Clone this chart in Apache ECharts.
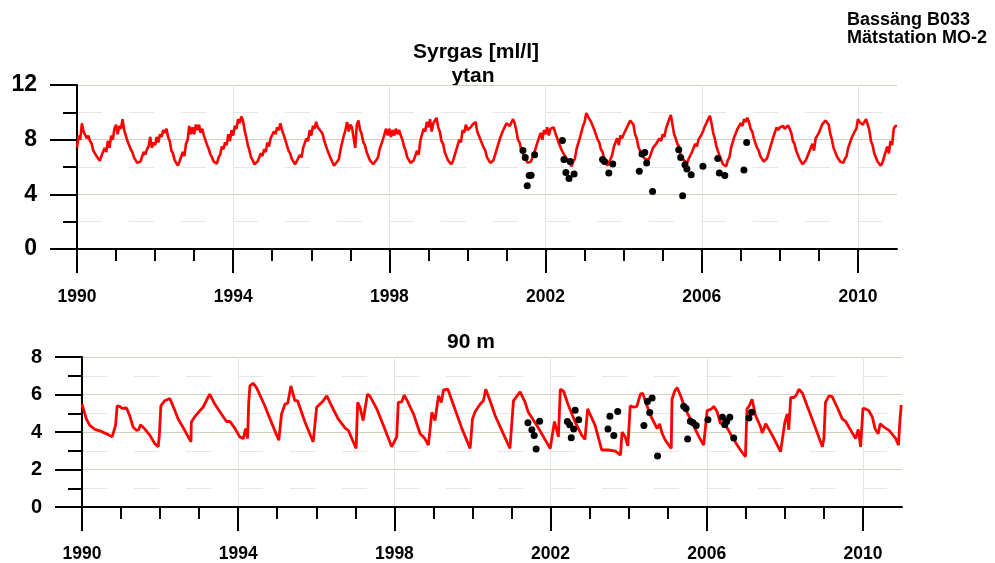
<!DOCTYPE html>
<html>
<head>
<meta charset="utf-8">
<script src="https://cdn.jsdelivr.net/npm/echarts@6/dist/echarts.min.js"></script>
<style>html,body{margin:0;padding:0;background:#fff}#c{width:995px;height:563px}</style>
</head>
<body>
<div id="c"></div>
<script>
// ---------- DATA ----------
// Surface (ytan) oxygen, 24 readings per year starting 1990.0 (half-monthly)
const ytanStartYear = 1990;
const ytanPerYear = 24;
const ytanValues = [
 7.4,8.3,8.0,9.2,8.6,8.7,8.1,8.3,7.9,7.7,7.2,7.1,6.8,6.7,6.45,6.8,6.7,7.4,7.1,7.9,7.4,8.3,8.0,8.8,
 9.1,8.4,9.0,8.8,9.5,8.7,8.6,7.9,7.8,7.3,7.1,6.7,6.6,6.3,6.2,6.4,6.5,7.1,6.9,7.3,7.5,8.2,7.4,7.8,
 7.6,8.2,7.8,8.4,8.2,8.7,8.5,8.8,8.2,7.9,7.2,7.0,6.5,6.4,6.1,6.4,6.5,7.1,6.8,7.7,8.0,9.0,8.4,8.9,
 8.4,9.1,8.7,9.1,8.5,8.8,8.3,8.3,7.6,7.3,6.9,6.7,6.4,6.3,6.25,6.7,6.9,7.5,7.3,7.8,7.6,8.4,7.9,8.7,
 8.3,9.0,8.8,9.5,9.2,9.7,9.4,8.7,8.2,7.6,7.2,6.7,6.5,6.2,6.1,6.4,6.5,7.0,6.8,7.3,7.1,7.8,7.5,8.1,
 8.0,8.6,8.4,8.9,8.7,9.2,8.7,8.7,8.0,7.9,7.2,7.0,6.6,6.5,6.2,6.4,6.5,6.9,6.7,7.4,7.3,8.1,7.9,8.7,
 8.3,9.0,8.8,9.3,8.9,9.0,8.6,8.4,7.9,7.8,7.2,7.1,6.6,6.5,6.1,6.0,6.4,6.6,7.3,7.4,8.3,8.7,9.3,8.6,
 9.1,8.9,8.8,7.4,9.1,9.4,8.7,8.4,7.8,7.6,7.1,7.0,6.5,6.5,6.2,6.1,6.5,6.7,7.3,7.2,8.0,8.0,8.8,8.3,
 8.8,8.2,8.7,8.3,8.8,8.4,8.7,8.3,8.0,7.5,7.2,6.7,6.6,6.3,6.2,6.5,6.6,7.2,6.9,7.9,7.8,8.8,8.6,9.3,
 8.9,9.5,8.6,9.2,9.1,9.6,8.9,8.6,7.9,7.7,7.1,7.0,6.5,6.5,6.2,6.4,6.5,7.2,7.1,8.0,7.8,8.7,8.5,9.1,
 8.7,8.8,8.9,9.1,9.1,9.3,8.6,8.5,8.0,7.9,7.4,7.2,6.7,6.7,6.3,6.2,6.5,6.6,7.3,7.3,8.1,8.1,8.7,8.8,
 9.2,9.1,9.0,9.0,9.5,9.2,8.7,8.0,7.8,7.3,7.2,6.7,6.7,6.3,6.2,6.4,6.4,7.0,6.9,7.8,7.8,8.5,8.0,8.7,
 8.4,8.9,8.3,8.8,8.7,8.9,8.5,8.4,7.8,7.7,7.2,7.2,6.8,6.8,6.4,6.4,6.05,6.4,6.6,7.3,7.3,8.1,8.2,9.0,
 9.3,9.95,9.7,9.7,9.3,9.2,8.7,8.6,8.0,7.8,7.3,7.1,6.6,6.5,6.1,6.1,6.6,6.9,7.5,7.4,8.1,7.6,8.3,8.1,
 8.4,8.4,8.9,8.9,9.4,9.45,9.1,8.4,8.1,7.5,7.4,6.9,7.0,6.6,6.6,6.5,6.7,6.8,7.4,7.5,7.7,7.6,8.1,7.9,
 8.4,8.2,8.8,8.7,9.5,9.8,9.1,8.4,8.1,7.7,7.5,6.9,6.9,6.5,6.4,6.3,6.6,6.6,7.1,7.0,7.7,7.5,8.0,7.9,
 8.4,8.4,9.0,8.9,9.5,9.75,9.2,8.5,8.1,7.5,7.4,6.8,6.7,6.2,6.1,6.05,6.5,6.7,7.4,7.4,8.2,8.1,8.8,8.7,
 9.2,9.0,9.5,9.3,9.6,9.3,8.8,8.6,8.1,8.0,7.4,7.2,6.8,6.7,6.4,6.3,6.6,6.7,7.4,7.4,8.2,8.2,8.9,8.7,
 8.9,8.8,9.0,8.8,8.7,9.05,8.8,8.5,7.9,7.7,7.2,7.1,6.6,6.5,6.2,6.3,6.5,6.6,7.1,7.1,7.7,7.2,8.1,8.0,
 8.5,8.5,9.1,9.2,9.4,9.3,9.1,8.4,8.0,7.4,7.3,6.8,6.8,6.4,6.4,6.3,6.6,6.8,7.4,7.4,8.1,8.0,8.6,8.8,
 9.5,9.3,9.4,9.1,9.3,9.5,9.1,8.7,7.9,7.6,7.0,6.9,6.4,6.4,6.1,6.3,6.7,6.8,7.5,7.0,7.9,7.6,8.8,9.0,
 9.0
];

// Surface bottle samples (black dots)
const ytanDotYears  = [2001.42,2001.48,2001.53,2001.58,2001.63,2001.72,2002.43,2002.47,2002.52,2002.60,2002.63,2002.73,2003.46,2003.51,2003.62,2003.72,2004.40,2004.47,2004.54,2004.59,2004.74,2005.41,2005.46,2005.51,2005.57,2005.62,2005.73,2006.03,2006.41,2006.45,2006.59,2007.08,2007.15];
const ytanDotValues = [7.2,6.7,4.63,5.37,5.4,6.9,7.93,6.54,5.6,5.15,6.41,5.49,6.54,6.41,5.56,6.22,5.68,6.95,7.07,6.3,4.2,7.27,6.7,3.9,6.17,5.85,5.44,6.05,6.63,5.56,5.37,5.78,7.8];

// 90 m oxygen
const deepYears = [
 1990.00,1990.11,1990.20,1990.33,1990.50,1990.67,1990.77,1990.82,1990.86,1990.90,1990.97,1991.03,1991.14,1991.22,1991.31,1991.39,1991.45,1991.50,1991.60,1991.74,1991.86,1991.95,1991.98,
 1992.02,1992.12,1992.25,1992.29,1992.38,1992.46,1992.63,1992.79,1992.80,1992.88,1993.02,1993.10,1993.27,1993.40,1993.57,1993.70,1993.79,1993.92,
 1994.04,1994.13,1994.19,1994.24,1994.27,1994.30,1994.38,1994.47,1994.68,1994.90,1995.04,1995.11,1995.20,1995.27,1995.35,1995.45,1995.52,1995.71,1995.92,
 1996.01,1996.18,1996.27,1996.39,1996.56,1996.74,1996.82,1997.02,1997.06,1997.12,1997.20,1997.31,1997.37,1997.55,1997.72,1997.93,
 1998.06,1998.10,1998.19,1998.25,1998.31,1998.49,1998.66,1998.78,1998.87,1998.96,1999.04,1999.13,1999.20,1999.26,1999.37,1999.55,1999.73,1999.94,
 2000.00,2000.07,2000.20,2000.28,2000.34,2000.45,2000.58,2000.75,2000.96,2001.05,2001.22,2001.35,2001.43,2001.65,2001.82,2001.99,
 2002.10,2002.20,2002.25,2002.33,2002.46,2002.63,2002.80,2002.88,2002.95,2003.14,2003.31,2003.48,2003.66,2003.79,2003.83,2003.91,2003.98,
 2004.04,2004.13,2004.21,2004.30,2004.36,2004.41,2004.56,2004.73,2004.79,2004.86,2004.94,2005.09,2005.11,2005.18,2005.24,2005.33,2005.45,2005.62,2005.80,2005.92,
 2006.01,2006.12,2006.18,2006.27,2006.35,2006.44,2006.65,2006.86,2006.99,2007.03,2007.09,2007.16,2007.25,2007.38,2007.42,2007.51,2007.68,2007.89,2007.93,
 2008.00,2008.06,2008.10,2008.15,2008.23,2008.29,2008.36,2008.45,2008.57,2008.79,2008.96,2009.00,2009.04,2009.13,2009.21,2009.34,2009.47,2009.56,2009.64,2009.81,2009.88,2009.94,
 2010.00,2010.07,2010.15,2010.24,2010.31,2010.39,2010.44,2010.54,2010.67,2010.84,2010.91,2010.95,2010.98
];
const deepValues = [
 5.49,4.70,4.35,4.14,4.03,3.86,3.74,3.80,4.35,5.40,5.35,5.26,5.28,4.88,4.26,4.09,4.12,4.39,4.18,3.82,3.39,3.21,3.80,
 5.40,5.67,5.79,5.75,5.14,4.70,4.09,3.47,4.53,4.79,5.14,5.32,6.02,5.49,4.96,4.56,4.56,4.18,
 3.74,3.65,4.18,3.65,5.58,6.46,6.60,6.37,5.40,4.26,3.56,4.96,5.49,5.54,6.46,5.67,5.67,4.53,3.47,
 5.32,5.67,5.93,5.40,4.70,4.21,4.09,3.12,5.58,5.32,4.61,6.02,5.93,5.23,4.35,3.21,
 3.74,5.58,5.61,5.96,5.75,4.96,3.91,3.65,3.30,5.05,4.61,5.93,5.58,6.25,6.28,5.23,4.18,3.12,
 4.70,5.09,5.49,5.67,6.28,5.67,4.88,4.09,3.12,5.67,6.14,5.58,5.05,4.35,3.74,3.12,
 4.56,3.74,6.28,6.19,5.40,4.53,3.82,3.60,5.23,4.35,3.04,3.04,2.98,2.77,4.00,3.74,3.26,
 5.40,5.32,5.37,6.02,6.07,5.75,4.88,4.18,4.44,3.91,3.56,3.12,5.75,6.19,6.37,5.93,5.23,4.53,3.74,3.30,
 5.14,5.23,5.37,5.05,4.44,4.53,3.74,3.04,2.68,5.23,5.40,5.75,4.88,4.26,3.95,4.44,3.82,2.95,2.95,
 4.53,4.96,4.12,5.84,5.84,5.96,6.28,6.07,5.40,4.18,3.21,3.65,5.58,5.93,5.89,5.32,4.70,4.56,4.26,3.65,4.14,3.21,
 5.26,5.23,5.14,4.79,4.18,3.91,4.44,4.26,4.09,3.65,3.30,4.70,5.44
];

// 90 m bottle samples (black dots)
const deepDotYears  = [2001.42,2001.52,2001.58,2001.63,2001.72,2002.43,2002.49,2002.53,2002.59,2002.63,2002.72,2003.47,2003.52,2003.62,2003.72,2004.39,2004.48,2004.54,2004.60,2004.74,2005.41,2005.47,2005.51,2005.58,2005.65,2005.73,2006.03,2006.40,2006.46,2006.51,2006.59,2006.69,2007.08,2007.15];
const deepDotValues = [4.49,4.12,3.82,3.09,4.58,4.56,4.39,3.7,4.16,5.16,4.65,4.16,4.84,3.81,5.1,4.35,5.63,5.04,5.82,2.72,5.37,5.26,3.63,4.58,4.49,4.35,4.65,4.79,4.39,4.56,4.79,3.68,4.75,5.05];

// Axis ticks / labels
const xMajorTicks = [1990,1994,1998,2002,2006,2010];
const xMinorTicks = [1991,1992,1993,1995,1996,1997,1999,2000,2001,2003,2004,2005,2007,2008,2009];
const titleText = 'Syrgas [ml/l]';
const topPanelTitle = 'ytan';
const bottomPanelTitle = '90 m';
const cornerLine1 = 'Bassäng B033';
const cornerLine2 = 'Mätstation MO-2';

// ---------- BUILD ----------
const FONT = '"Liberation Sans", Arial, sans-serif';
const ytanData = ytanValues.map((v, i) => [ytanStartYear + i / ytanPerYear, v]);
const ytanDots = ytanDotYears.map((y, i) => [y, ytanDotValues[i]]);
const deepData = deepYears.map((y, i) => [y, deepValues[i]]);
const deepDots = deepDotYears.map((y, i) => [y, deepDotValues[i]]);

function majorX(gi, margin) {
  return {
    type: 'value', gridIndex: gi, min: 1990, max: 2011, position: 'bottom',
    axisLine: { show: true, onZero: false, lineStyle: { color: '#000', width: 2 } },
    axisTick: { show: true, customValues: xMajorTicks, length: 24, lineStyle: { color: '#000', width: 2 } },
    axisLabel: { customValues: xMajorTicks, margin: margin, color: '#000', fontSize: 17.5, fontWeight: 'bold', fontFamily: FONT, formatter: v => String(v) },
    splitLine: { show: true, lineStyle: { color: '#e4e4e4', width: 1 } }
  };
}
function minorX(gi) {
  return {
    type: 'value', gridIndex: gi, min: 1990, max: 2011, position: 'bottom',
    axisLine: { show: false, onZero: false },
    axisTick: { show: true, customValues: xMinorTicks, length: 12, lineStyle: { color: '#000', width: 2 } },
    axisLabel: { show: false },
    splitLine: { show: false }
  };
}
function yAx(gi, max, interval, fs) {
  return {
    type: 'value', gridIndex: gi, min: 0, max: max, interval: interval,
    axisLine: { show: true, onZero: false, lineStyle: { color: '#000', width: 2 } },
    axisTick: { show: true, length: 27, lineStyle: { color: '#000', width: 2 } },
    minorTick: { show: true, splitNumber: 2, length: 14, lineStyle: { color: '#000', width: 2 } },
    axisLabel: { margin: 40, color: '#000', fontSize: fs, fontWeight: 'bold', fontFamily: FONT },
    splitLine: { show: true, lineStyle: { color: '#d3d0bd', width: 1.2 } },
    minorSplitLine: { show: true, lineStyle: { color: '#e6e6e6', width: 1.2, type: [25, 27] } }
  };
}

const chart = echarts.init(document.getElementById('c'), null, { renderer: 'canvas' });
chart.setOption({
  animation: false,
  backgroundColor: '#fff',
  grid: [
    { left: 77, right: 98, top: 85, bottom: 314 },
    { left: 82, right: 93, top: 357, bottom: 54 }
  ],
  xAxis: [majorX(0, 39), minorX(0), majorX(1, 38), minorX(1)],
  yAxis: [yAx(0, 12, 4, 23), yAx(1, 8, 2, 20)],
  graphic: [
    { type: 'text', x: 476, y: 52, style: { text: titleText, font: 'bold 21px ' + FONT, fill: '#000', textAlign: 'center', textVerticalAlign: 'middle' } },
    { type: 'text', x: 473, y: 76, style: { text: topPanelTitle, font: 'bold 21px ' + FONT, fill: '#000', textAlign: 'center', textVerticalAlign: 'middle' } },
    { type: 'text', x: 471, y: 342, style: { text: bottomPanelTitle, font: 'bold 21px ' + FONT, fill: '#000', textAlign: 'center', textVerticalAlign: 'middle' } },
    { type: 'text', x: 847, y: 20, style: { text: cornerLine1, font: 'bold 18px ' + FONT, fill: '#000', textAlign: 'left', textVerticalAlign: 'middle' } },
    { type: 'text', x: 847, y: 38, style: { text: cornerLine2, font: 'bold 18px ' + FONT, fill: '#000', textAlign: 'left', textVerticalAlign: 'middle' } }
  ],
  series: [
    { type: 'line', xAxisIndex: 0, yAxisIndex: 0, data: ytanData, showSymbol: false, symbol: 'none', lineStyle: { color: '#ff0000', width: 2.6 }, z: 3 },
    { type: 'scatter', xAxisIndex: 0, yAxisIndex: 0, data: ytanDots, symbolSize: 7, itemStyle: { color: '#000', opacity: 1 }, z: 4 },
    { type: 'line', xAxisIndex: 2, yAxisIndex: 1, data: deepData, showSymbol: false, symbol: 'none', lineStyle: { color: '#ff0000', width: 2.8 }, z: 3 },
    { type: 'scatter', xAxisIndex: 2, yAxisIndex: 1, data: deepDots, symbolSize: 7, itemStyle: { color: '#000', opacity: 1 }, z: 4 }
  ]
});
</script>
</body>
</html>
